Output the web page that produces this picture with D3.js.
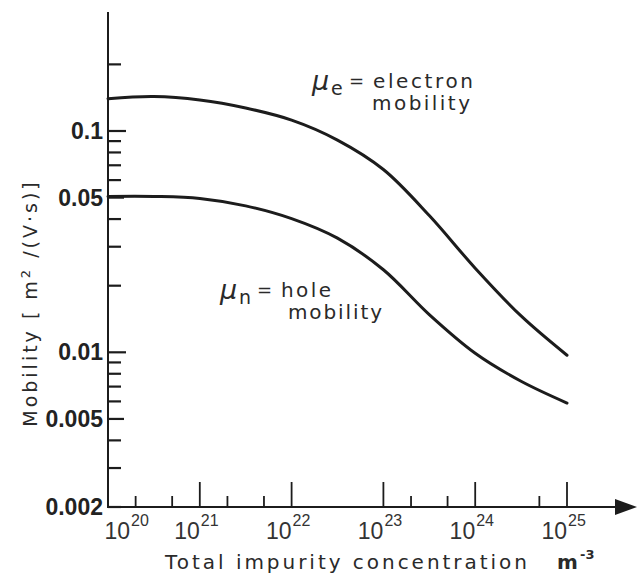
<!DOCTYPE html>
<html>
<head>
<meta charset="utf-8">
<script src="https://cdn.jsdelivr.net/npm/d3@7/dist/d3.min.js"></script>
<style>
  body { margin: 0; background: #fff; }
  svg { display: block; }
</style>
</head>
<body>
<div id="chart"></div>
<script>
// values (half-decade samples)
var concentration = [1e20, 3.16e20, 1e21, 3.16e21, 1e22, 3.16e22, 1e23, 3.16e23, 1e24, 3.16e24, 1e25];
var electronMobility = [0.140, 0.143, 0.138, 0.127, 0.112, 0.091, 0.067, 0.0415, 0.024, 0.0146, 0.0097];
var holeMobility = [0.0506, 0.0506, 0.0496, 0.0459, 0.0402, 0.0328, 0.0236, 0.0148, 0.0099, 0.0074, 0.0059];

var yLabelTicks = [0.1, 0.05, 0.01, 0.005, 0.002];
var yLabelText = ["0.1", "0.05", "0.01", "0.005", "0.002"];
var yMinorTicks = [0.2, 0.09, 0.08, 0.07, 0.06, 0.04, 0.03, 0.02, 0.009, 0.008, 0.007, 0.006, 0.004, 0.003];
var xMajorTicks = [1e21, 1e22, 1e23, 1e24, 1e25];
var xMinorTicks = [2e20, 5e20, 2e21, 5e21, 2e23, 5e23, 5e24];
var xLabelExp = [20, 21, 22, 23, 24, 25];

var width = 638, height = 579;
var ink = "#1c1c1c";
var letterFont = "'DejaVu Sans', sans-serif";

var svg = d3.select("#chart").append("svg")
  .attr("width", width)
  .attr("height", height);

svg.append("rect").attr("width", width).attr("height", height).attr("fill", "#fff");

var x = d3.scaleLog().domain([1e20, 1e25]).range([108, 567]);
var y = d3.scaleLog().domain([0.002, 0.1]).range([507, 131]);
var x0 = x.range()[0], yBase = y.range()[0];

// axes lines
svg.append("line").attr("x1", x0).attr("x2", x0).attr("y1", 12).attr("y2", yBase + 1)
  .attr("stroke", ink).attr("stroke-width", 2);
svg.append("line").attr("x1", x0 - 1).attr("x2", 618).attr("y1", yBase).attr("y2", yBase)
  .attr("stroke", ink).attr("stroke-width", 2);
svg.append("path")
  .attr("d", "M615," + (yBase - 8) + "L637," + yBase + "L615," + (yBase + 8) + "Z")
  .attr("fill", ink);

// y ticks
function yTickLen(v) {
  if (v === 0.1 || v === 0.01) return 18;
  if (v === 0.05 || v === 0.005) return 16;
  return 13;
}
svg.selectAll(".ytick")
  .data(yLabelTicks.concat(yMinorTicks))
  .enter().append("line")
    .attr("class", "ytick")
    .attr("x1", x0).attr("x2", function(d) { return x0 + yTickLen(d); })
    .attr("y1", function(d) { return y(d); }).attr("y2", function(d) { return y(d); })
    .attr("stroke", ink).attr("stroke-width", 2.2);

svg.selectAll(".ylab")
  .data(yLabelTicks)
  .enter().append("text")
    .attr("class", "ylab")
    .attr("x", 103)
    .attr("y", function(d) { return y(d) + 8; })
    .attr("text-anchor", "end")
    .style("font-family", "'Liberation Sans', Arial, sans-serif")
    .style("font-weight", "bold")
    .style("font-size", "23px")
    .attr("fill", "#222")
    .text(function(d, i) { return yLabelText[i]; });

// x ticks
svg.selectAll(".xmaj")
  .data(xMajorTicks)
  .enter().append("line")
    .attr("x1", function(d) { return x(d); }).attr("x2", function(d) { return x(d); })
    .attr("y1", yBase).attr("y2", yBase - 25)
    .attr("stroke", ink).attr("stroke-width", 1.8);
svg.selectAll(".xmin")
  .data(xMinorTicks)
  .enter().append("line")
    .attr("x1", function(d) { return x(d); }).attr("x2", function(d) { return x(d); })
    .attr("y1", yBase).attr("y2", yBase - 11)
    .attr("stroke", ink).attr("stroke-width", 1.8);

var xl = svg.selectAll(".xlab")
  .data(xLabelExp)
  .enter().append("g")
    .attr("transform", function(d) {
      var px = x(Math.pow(10, d)) + (d === 20 ? 22 : 0);
      return "translate(" + px + ",0)";
    });
xl.append("text")
  .attr("x", 0).attr("y", 539)
  .attr("text-anchor", "end")
  .style("font-family", "'Liberation Sans', Arial, sans-serif")
  .style("font-size", "23px")
  .attr("fill", "#333")
  .text("10");
xl.append("text")
  .attr("x", 1).attr("y", 526)
  .style("font-family", "'Liberation Sans', Arial, sans-serif")
  .style("font-size", "16px")
  .attr("fill", "#333")
  .text(function(d) { return d; });

// axis titles
svg.append("text")
  .attr("x", 165).attr("y", 569)
  .attr("textLength", 362).attr("lengthAdjust", "spacing")
  .style("font-family", letterFont).style("font-size", "20px")
  .attr("fill", "#2a2a2a")
  .text("Total impurity concentration");
svg.append("text")
  .attr("x", 557).attr("y", 569)
  .style("font-family", letterFont).style("font-size", "20px").style("font-weight", "bold")
  .attr("fill", "#2a2a2a")
  .text("m");
svg.append("text")
  .attr("x", 580).attr("y", 559)
  .style("font-family", letterFont).style("font-size", "13px").style("font-weight", "bold")
  .attr("fill", "#2a2a2a")
  .text("-3");

var yTitle = svg.append("text")
  .attr("transform", "translate(37,303) rotate(-90)")
  .attr("text-anchor", "middle")
  .style("font-family", letterFont).style("font-size", "19px")
  .style("letter-spacing", "3px")
  .attr("fill", "#2a2a2a");
yTitle.append("tspan").text("Mobility [ m");
yTitle.append("tspan").attr("dy", -7).style("font-size", "13px").text("2");
yTitle.append("tspan").attr("dy", 7).text(" /(V\u00B7s)]");

// curves
var line = d3.line()
  .x(function(d) { return x(d[0]); })
  .y(function(d) { return y(d[1]); })
  .curve(d3.curveCatmullRom.alpha(0.5));

[electronMobility, holeMobility].forEach(function(series) {
  svg.append("path")
    .datum(d3.zip(concentration, series))
    .attr("d", line)
    .attr("fill", "none")
    .attr("stroke", ink)
    .attr("stroke-width", 3)
    .attr("stroke-linecap", "round");
});

// curve labels
function curveLabel(px, py, sub, word, wordLen, word2X, word2Len) {
  var g = svg.append("g").attr("fill", "#2a2a2a").style("font-family", letterFont);
  g.append("text").attr("x", px).attr("y", py + 2)
    .style("font-size", "27px").style("font-style", "italic").text("\u03BC");
  g.append("text").attr("x", px + 19).attr("y", py + 7)
    .style("font-size", "19px").text(sub);
  g.append("text").attr("x", px + 37).attr("y", py - 1)
    .style("font-size", "18px").text("=");
  g.append("text").attr("x", px + 61).attr("y", py)
    .attr("textLength", wordLen).attr("lengthAdjust", "spacing")
    .style("font-size", "20px").text(word);
  g.append("text").attr("x", word2X).attr("y", py + 22)
    .attr("textLength", word2Len).attr("lengthAdjust", "spacing")
    .style("font-size", "20px").text("mobility");
}
curveLabel(312, 88, "e", "electron", 100, 372, 98);
curveLabel(220, 297, "n", "hole", 50, 288, 94);
</script>
</body>
</html>
